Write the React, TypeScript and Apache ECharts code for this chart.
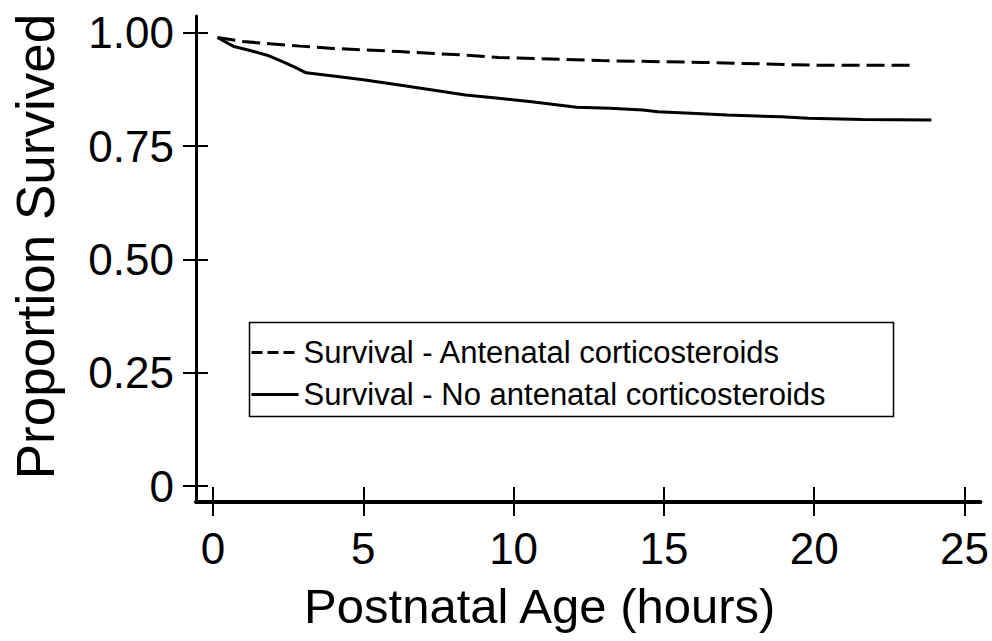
import React, { useEffect, useRef } from "react";
import * as echarts from "echarts";

const seriesNames = [
  "Survival - Antenatal corticosteroids",
  "Survival - No antenatal corticosteroids",
];

// hours, proportion survived
const antenatalHours = [0.15, 1.0, 2.9, 4.0, 6.2, 8.4, 9.5, 12.9, 16.3, 19.9, 23.4];
const antenatalValues = [0.99, 0.981, 0.971, 0.966, 0.959, 0.951, 0.946, 0.939, 0.935, 0.929, 0.929];

const noAntenatalHours = [0.15, 0.7, 1.2, 1.8, 2.2, 2.7, 3.1, 4.0, 5.0, 6.2, 7.3, 8.4, 9.5, 10.6, 12.1, 13.2, 14.3, 14.8, 15.9, 17.1, 18.9, 19.8, 21.6, 23.9];
const noAntenatalValues = [0.99, 0.97, 0.962, 0.951, 0.94, 0.925, 0.912, 0.905, 0.897, 0.885, 0.874, 0.863, 0.856, 0.848, 0.836, 0.834, 0.83, 0.826, 0.823, 0.819, 0.815, 0.812, 0.809, 0.808];

const xTicks = [0, 5, 10, 15, 20, 25];
const yTicks = [0, 0.25, 0.5, 0.75, 1];

const xTitle = "Postnatal Age (hours)";
const yTitle = "Proportion Survived";

const FONT = "'Liberation Sans', Arial, Helvetica, sans-serif";

export default function App() {
  const ref = useRef<HTMLDivElement>(null);
  useEffect(() => {
    if (!ref.current) return;
    const chart = echarts.init(ref.current, null, { renderer: "svg" });
    const xMin = -0.565;
    const xMax = 25.53;
    const yMin = -0.0353;
    const yMax = 1.0375;
    const yFmt = (v: number) => (v === 0 ? "0" : v.toFixed(2));
    chart.setOption({
      animation: false,
      backgroundColor: "#fff",
      grid: { left: 196, right: 11, top: 16, bottom: 139 },
      xAxis: [
        {
          type: "value",
          min: xMin,
          max: xMax,
          position: "bottom",
          splitLine: { show: false },
          axisLine: { show: true, onZero: false, lineStyle: { color: "#000", width: 4 } },
          axisTick: {
            show: true,
            inside: false,
            length: 14,
            lineStyle: { color: "#000", width: 2 },
            customValues: xTicks,
          },
          axisLabel: {
            customValues: xTicks,
            margin: 24,
            color: "#000",
            fontSize: 44,
            fontFamily: FONT,
          },
          name: xTitle,
          nameLocation: "middle",
          nameGap: 79,
          nameTextStyle: {
            color: "#000",
            fontSize: 49,
            fontFamily: FONT,
            padding: [0, 97, 0, 0],
          },
        },
        {
          type: "value",
          min: xMin,
          max: xMax,
          position: "bottom",
          splitLine: { show: false },
          axisLine: { show: false, onZero: false },
          axisTick: {
            show: true,
            inside: true,
            length: 15,
            lineStyle: { color: "#000", width: 2 },
            customValues: xTicks,
          },
          axisLabel: { show: false },
        },
      ],
      yAxis: [
        {
          type: "value",
          min: yMin,
          max: yMax,
          position: "left",
          splitLine: { show: false },
          axisLine: { show: true, onZero: false, lineStyle: { color: "#000", width: 3 } },
          axisTick: {
            show: true,
            inside: false,
            length: 13,
            lineStyle: { color: "#000", width: 2 },
            customValues: yTicks,
          },
          axisLabel: {
            customValues: yTicks,
            formatter: yFmt,
            margin: 22,
            color: "#000",
            fontSize: 44,
            fontFamily: FONT,
          },
          name: yTitle,
          nameLocation: "middle",
          nameRotate: 90,
          nameGap: 134,
          nameTextStyle: {
            color: "#000",
            fontSize: 53,
            fontFamily: FONT,
            padding: [0, 0, 0, 25],
          },
        },
        {
          type: "value",
          min: yMin,
          max: yMax,
          position: "left",
          splitLine: { show: false },
          axisLine: { show: false, onZero: false },
          axisTick: {
            show: true,
            inside: true,
            length: 12,
            lineStyle: { color: "#000", width: 2 },
            customValues: yTicks,
          },
          axisLabel: { show: false },
        },
      ],
      graphic: [
        {
          type: "rect",
          shape: { x: 249.5, y: 322.5, width: 644, height: 94 },
          style: { fill: "#fff", stroke: "#000", lineWidth: 1.5 },
          z: 10,
        },
      ],
      legend: {
        show: true,
        orient: "vertical",
        left: 250,
        top: 337,
        itemWidth: 47,
        itemHeight: 14,
        itemGap: 11,
        padding: 0,
        z: 20,
        textStyle: { color: "#000", fontSize: 31, fontFamily: FONT },
        data: seriesNames.map((name, i) =>
          i === 0
            ? { name, lineStyle: { type: [11, 5], width: 3, color: "#000" }, itemStyle: { opacity: 0 } }
            : { name, lineStyle: { type: "solid", width: 3, color: "#000" }, itemStyle: { opacity: 0 } }
        ),
      },
      series: [
        {
          name: seriesNames[0],
          type: "line",
          xAxisIndex: 0,
          yAxisIndex: 0,
          symbol: "none",
          showSymbol: false,
          data: antenatalHours.map((h, i) => [h, antenatalValues[i]]),
          lineStyle: { color: "#000", width: 3, type: [18, 7] },
          itemStyle: { color: "#000" },
          z: 5,
        },
        {
          name: seriesNames[1],
          type: "line",
          xAxisIndex: 0,
          yAxisIndex: 0,
          symbol: "none",
          showSymbol: false,
          data: noAntenatalHours.map((h, i) => [h, noAntenatalValues[i]]),
          lineStyle: { color: "#000", width: 3, type: "solid" },
          itemStyle: { color: "#000" },
          z: 5,
        },
      ],
    });
    return () => chart.dispose();
  }, []);
  return <div ref={ref} style={{ width: 992, height: 641, position: "absolute", left: 0, top: 0 }} />;
}
